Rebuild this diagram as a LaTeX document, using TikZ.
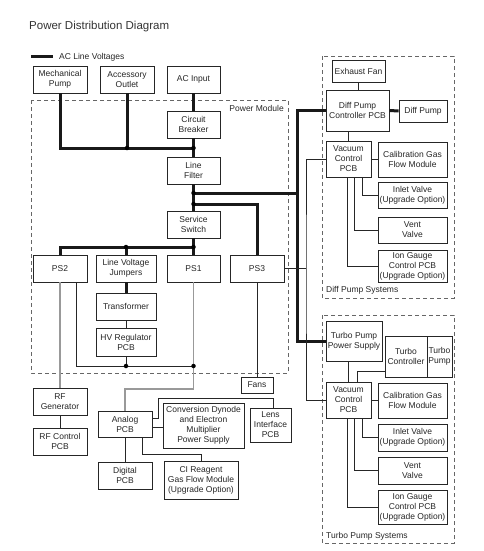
\documentclass[tikz,border=0pt]{standalone}
\usepackage{fontspec}
\setmainfont{Liberation Sans}
\begin{document}
\begin{tikzpicture}[x=1pt,y=-1pt,
  box/.style={draw=black!85, line width=0.8pt, inner sep=0pt, align=center, font=\fontsize{8.5}{10}\selectfont, text=black!85, fill=white},
  ac/.style={line width=3pt, draw=black!90},
  wire/.style={line width=0.8pt, draw=black!85},
  gwire/.style={line width=1.2pt, draw=black!40},
  region/.style={draw=black!60, line width=0.8pt, dash pattern=on 4pt off 3pt},
  lbl/.style={font=\fontsize{8.5}{10}\selectfont, text=black!85, inner sep=0pt},
  jdot/.style={circle, fill=black, inner sep=0pt, minimum size=4.5pt}]
\useasboundingbox (0,0) rectangle (484,551);

% regions
\draw[region] (31,100) rectangle (288,373);
\draw[region] (322,56) rectangle (454,298);
\draw[region] (322,315) rectangle (454,543);
\node[lbl, anchor=east] (pmlbl) at (284,108) {Power Module};
\node[lbl, anchor=west] (dplbl) at (326,290) {Diff Pump Systems};
\node[lbl, anchor=west] (tplbl) at (326,536) {Turbo Pump Systems};

% title and legend
\node[anchor=west, inner sep=0pt, font=\fontsize{11.5}{13}\selectfont, text=black!80] (title) at (29,27) {Power Distribution Diagram};
\coordinate (legA) at (31,57);
\coordinate (legB) at (53,57);
\node[lbl, anchor=west] (legtxt) at (59,57) {AC Line Voltages};

% boxes left
\node[box, minimum width=54pt, minimum height=27pt] (mech) at (60,79.5) {Mechanical\\Pump};
\node[box, minimum width=54pt, minimum height=27pt] (acc) at (127,79.5) {Accessory\\Outlet};
\node[box, minimum width=53pt, minimum height=27pt] (acin) at (193.5,79.5) {AC Input};
\node[box, minimum width=53pt, minimum height=27pt] (cb) at (193.5,124.5) {Circuit\\Breaker};
\node[box, minimum width=53pt, minimum height=27pt] (lf) at (193.5,170.5) {Line\\Filter};
\node[box, minimum width=53pt, minimum height=27pt] (ss) at (193.5,224.5) {Service\\Switch};
\node[box, minimum width=54pt, minimum height=27pt] (ps2) at (60,268.5) {PS2};
\node[box, minimum width=60pt, minimum height=27pt] (lvj) at (126,268.5) {Line Voltage\\Jumpers};
\node[box, minimum width=53pt, minimum height=27pt] (ps1) at (193.5,268.5) {PS1};
\node[box, minimum width=54pt, minimum height=27pt] (ps3) at (257,268.5) {PS3};
\node[box, minimum width=60pt, minimum height=27pt] (trans) at (126,306.5) {Transformer};
\node[box, minimum width=60pt, minimum height=28pt] (hvreg) at (126,342) {HV Regulator\\PCB};
\node[box, minimum width=32pt, minimum height=16pt] (fans) at (257,385) {Fans};
\node[box, minimum width=54pt, minimum height=27pt] (rfgen) at (60,401.5) {RF\\Generator};
\node[box, minimum width=54pt, minimum height=27pt] (rfctl) at (60,441.5) {RF Control\\PCB};
\node[box, minimum width=54pt, minimum height=26pt] (analog) at (125,424) {Analog\\PCB};
\node[box, minimum width=54pt, minimum height=27pt] (digital) at (125,475.5) {Digital\\PCB};
\node[box, minimum width=81pt, minimum height=45pt] (convdyn) at (203.5,425.5) {Conversion Dynode\\and Electron\\Multiplier\\Power Supply};
\node[box, minimum width=41pt, minimum height=34pt] (lens) at (270.5,425) {Lens\\Interface\\PCB};
\node[box, minimum width=74pt, minimum height=38pt] (ci) at (201,480) {CI Reagent\\Gas Flow Module\\(Upgrade Option)};

% boxes right: diff pump
\node[box, minimum width=53pt, minimum height=22pt] (exfan) at (358.5,71) {Exhaust Fan};
\node[box, minimum width=63pt, minimum height=41pt] (dpc) at (357.5,110.5) {Diff Pump\\Controller PCB};
\node[box, minimum width=48pt, minimum height=22pt] (dpump) at (423,111) {Diff Pump};
\node[box, minimum width=45pt, minimum height=36pt] (vc1) at (348.5,159) {Vacuum\\Control\\PCB};
\node[box, minimum width=69pt, minimum height=35pt] (cal1) at (412.5,159.5) {Calibration Gas\\Flow Module};
\node[box, minimum width=69pt, minimum height=26pt] (inlet1) at (412.5,195) {Inlet Valve\\(Upgrade Option)};
\node[box, minimum width=69pt, minimum height=26pt] (vent1) at (412.5,230) {Vent\\Valve};
\node[box, minimum width=69pt, minimum height=32pt] (ion1) at (412.5,266) {Ion Gauge\\Control PCB\\(Upgrade Option)};

% boxes right: turbo pump
\node[box, minimum width=56pt, minimum height=40pt] (tpps) at (354,341) {Turbo Pump\\Power Supply};
\node[box, minimum width=42pt, minimum height=41pt] (tctl) at (406,356.5) {Turbo\\Controller};
\node[box, minimum width=25pt, minimum height=41pt] (tpump) at (439.5,356.5) {Turbo\\Pump};
\node[box, minimum width=45pt, minimum height=36pt] (vc2) at (348.5,400) {Vacuum\\Control\\PCB};
\node[box, minimum width=69pt, minimum height=35pt] (cal2) at (412.5,400.5) {Calibration Gas\\Flow Module};
\node[box, minimum width=69pt, minimum height=27pt] (inlet2) at (412.5,437.5) {Inlet Valve\\(Upgrade Option)};
\node[box, minimum width=69pt, minimum height=27pt] (vent2) at (412.5,470.5) {Vent\\Valve};
\node[box, minimum width=69pt, minimum height=34pt] (ion2) at (412.5,507) {Ion Gauge\\Control PCB\\(Upgrade Option)};

% junction coordinates
\coordinate (accj) at (127,148);
\coordinate (cbj) at (193.5,148);
\coordinate (lfj1) at (193.5,193);
\coordinate (lfj2) at (193.5,204);
\coordinate (busj) at (297,193);
\coordinate (ssj) at (193.5,247);
\coordinate (lvjj) at (126,247);
\coordinate (hvj) at (126,366);
\coordinate (psj) at (193.5,366);
\coordinate (gj) at (193.5,389);
\coordinate (rv) at (306,268.5);
\coordinate (lw) at (158,398);
\coordinate (cij) at (201,454);

% AC line voltages (thick)
\draw[ac] (legA) -- (legB);
\draw[ac] (mech.south) |- (cbj);
\draw[ac] (acc.south) -- (accj);
\draw[ac] (acin.south) -- (cb.north);
\draw[ac] (cb.south) -- (lf.north);
\draw[ac] (lf.south) -- (ss.north);
\draw[ac] (lfj1) -- (busj);
\draw[ac] (lfj2) -| (ps3.north);
\draw[ac] (dpc.west) -| (busj) |- (tpps.west);
\draw[ac] (dpc.east) -- (dpump.west);
\draw[ac] (ss.south) -- (ps1.north);
\draw[ac] (ps2.north) |- (ssj);
\draw[ac] (lvj.north) -- (lvjj);
\draw[ac] (lvj.south) -- (trans.north);

% grey connectors
\draw[gwire] (ps1.south) -- (gj) -| (analog.north);
\draw[gwire] (ps2.south) -- (rfgen.north);

% thin connectors
\draw[wire] (trans.south) -- (hvreg.north);
\draw[wire] (hvreg.south) -- (hvj);
\draw[wire] ([xshift=16pt]ps2.south) |- (psj);
\draw[wire] (ps3.south) -- (fans.north);
\draw[wire] (ps3.east) -- (rv);
\draw[wire] (vc1.west) -| (rv) |- (vc2.west);
\draw[wire] (exfan.south) -- (exfan.south |- dpc.north);
\draw[wire] (vc1.north |- dpc.south) -- (vc1.north);
\draw[wire] (vc1.east) -- (vc1.east -| cal1.west);
\draw[wire] ([xshift=-1.5pt]vc1.south) |- (ion1.west);
\draw[wire] ([xshift=5.5pt]vc1.south) |- (vent1.west);
\draw[wire] ([xshift=13.5pt]vc1.south) |- (inlet1.west);
\draw[wire] (vc2.north |- tpps.south) -- (vc2.north);
\draw[wire] ([yshift=-14.5pt]tctl.west) -| ([xshift=8.5pt]vc2.north);
\draw[wire] (vc2.east) -- (vc2.east -| cal2.west);
\draw[wire] ([xshift=-1.5pt]vc2.south) |- (ion2.west);
\draw[wire] ([xshift=5.5pt]vc2.south) |- (vent2.west);
\draw[wire] ([xshift=13.5pt]vc2.south) |- (inlet2.west);
\draw[wire] (rfgen.south) -- (rfctl.north);
\draw[wire] (analog.south) -- (digital.north);
\draw[wire] ([yshift=-3pt]analog.east) -- ([yshift=-3pt]analog.east -| convdyn.west);
\draw[wire] ([yshift=6pt]analog.east) -| (lw) -| ([xshift=2.5pt]lens.north);
\draw[wire] ([xshift=17pt]analog.south) |- (cij) -- (ci.north);

% junction dots
\node[jdot] (d1) at (accj) {};
\node[jdot] (d2) at (cbj) {};
\node[jdot] (d3) at (lfj1) {};
\node[jdot] (d4) at (lfj2) {};
\node[jdot] (d5) at (ssj) {};
\node[jdot] (d6) at (lvjj) {};
\node[jdot] (d7) at (hvj) {};
\node[jdot] (d8) at (psj) {};
\end{tikzpicture}
\end{document}
